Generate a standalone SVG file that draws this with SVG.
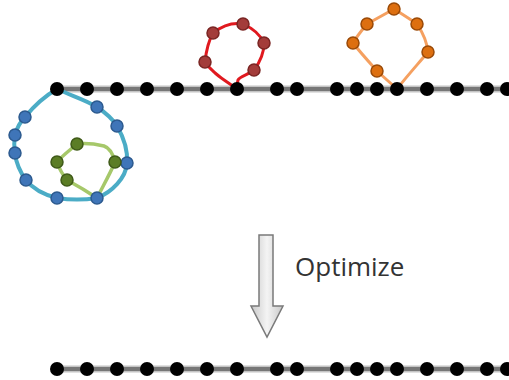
<svg xmlns="http://www.w3.org/2000/svg" width="509" height="380" viewBox="0 0 509 380">
<defs>
<linearGradient id="arrowGrad" x1="0" y1="0" x2="1" y2="0">
<stop offset="0" stop-color="#c8c8c8"/>
<stop offset="0.5" stop-color="#f4f4f4"/>
<stop offset="1" stop-color="#c8c8c8"/>
</linearGradient>
</defs>
<style>
.halo{stroke:#c4c4c4;stroke-width:7;fill:none}
.track{stroke:#777;stroke-width:4;fill:none}
.bead{fill:#000}
.blue-line{fill:none;stroke:#4bacc6;stroke-width:4;stroke-linejoin:round}
.green-line{fill:none;stroke:#a6c86a;stroke-width:3.5;stroke-linejoin:round}
.red-line{fill:none;stroke:#e0191f;stroke-width:3;stroke-linejoin:round}
.orange-line{fill:none;stroke:#f5a060;stroke-width:3;stroke-linejoin:round}
.blue-dot{fill:#3f75b8;stroke:#2c5a8f;stroke-width:1.5}
.green-dot{fill:#5b7d25;stroke:#3f5a18;stroke-width:1.5}
.red-dot{fill:#a33c3a;stroke:#7a2523;stroke-width:1.5}
.orange-dot{fill:#dd6f10;stroke:#9a4a08;stroke-width:1.5}
.label{font-family:"Open Sans","Liberation Sans",sans-serif;font-size:26px;fill:#333}
</style>

<g id="connectors">
<g id="top-track">
<line class="halo" x1="57" y1="89" x2="509" y2="89"/>
<line class="track" x1="57" y1="89" x2="509" y2="89"/>
</g>
<g id="bottom-track">
<line class="halo" x1="57" y1="369" x2="509" y2="369"/>
<line class="track" x1="57" y1="369" x2="509" y2="369"/>
</g>
<path id="blue-loop-line" class="blue-line" d="M57,89 C72,96 86,100 97,107 C106,113 112,118 117,126 C124,138 128,150 127,163 C126,178 112,192 97,198 C84,200 70,200 57,198 C45,195 33,189 26,180 C20,172 16,162 15,153 C14,147 14,141 15,135 C17,128 20,122 25,117 C34,106 45,96 57,89 Z"/>
<path id="green-loop-line" class="green-line" d="M77,144 C70,150 62,156 57,162 C59,168 62,174 67,180 C78,186 88,192 97,198 C103,186 110,174 115,162 C113,154 110,148 104,146 C95,144 86,143 77,144 Z"/>
<path id="red-loop-line" class="red-line" d="M237,89 C226,81 213,74 205,62 C206,52 208,42 213,33 C222,26 232,22 243,24 C252,28 260,34 264,43 C264,54 260,62 254,70 C248,75 240,76 238,80 C237,83 237,86 237,89"/>
<path id="orange-loop-line" class="orange-line" d="M397,89 L377,71 C369,62 360,52 353,43 C357,36 362,30 367,24 C376,19 385,14 394,9 C402,14 410,19 417,24 C423,33 427,42 428,52 C418,64 407,76 397,89"/>
</g>

<g id="top-beads">
<circle class="bead" cx="57" cy="89" r="7"/>
<circle class="bead" cx="87" cy="89" r="7"/>
<circle class="bead" cx="117" cy="89" r="7"/>
<circle class="bead" cx="147" cy="89" r="7"/>
<circle class="bead" cx="177" cy="89" r="7"/>
<circle class="bead" cx="207" cy="89" r="7"/>
<circle class="bead" cx="237" cy="89" r="7"/>
<circle class="bead" cx="277" cy="89" r="7"/>
<circle class="bead" cx="297" cy="89" r="7"/>
<circle class="bead" cx="337" cy="89" r="7"/>
<circle class="bead" cx="357" cy="89" r="7"/>
<circle class="bead" cx="377" cy="89" r="7"/>
<circle class="bead" cx="397" cy="89" r="7"/>
<circle class="bead" cx="427" cy="89" r="7"/>
<circle class="bead" cx="457" cy="89" r="7"/>
<circle class="bead" cx="487" cy="89" r="7"/>
<circle class="bead" cx="507" cy="89" r="7"/>
</g>

<g id="blue-loop">
<circle class="blue-dot" cx="97" cy="107" r="6"/>
<circle class="blue-dot" cx="117" cy="126" r="6"/>
<circle class="blue-dot" cx="127" cy="163" r="6"/>
<circle class="blue-dot" cx="97" cy="198" r="6"/>
<circle class="blue-dot" cx="57" cy="198" r="6"/>
<circle class="blue-dot" cx="26" cy="180" r="6"/>
<circle class="blue-dot" cx="15" cy="153" r="6"/>
<circle class="blue-dot" cx="15" cy="135" r="6"/>
<circle class="blue-dot" cx="25" cy="117" r="6"/>
</g>

<g id="green-loop">
<circle class="green-dot" cx="77" cy="144" r="6"/>
<circle class="green-dot" cx="57" cy="162" r="6"/>
<circle class="green-dot" cx="67" cy="180" r="6"/>
<circle class="green-dot" cx="115" cy="162" r="6"/>
</g>

<g id="red-loop">
<circle class="red-dot" cx="205" cy="62" r="6"/>
<circle class="red-dot" cx="213" cy="33" r="6"/>
<circle class="red-dot" cx="243" cy="24" r="6"/>
<circle class="red-dot" cx="264" cy="43" r="6"/>
<circle class="red-dot" cx="254" cy="70" r="6"/>
</g>

<g id="orange-loop">
<circle class="orange-dot" cx="377" cy="71" r="6"/>
<circle class="orange-dot" cx="353" cy="43" r="6"/>
<circle class="orange-dot" cx="367" cy="24" r="6"/>
<circle class="orange-dot" cx="394" cy="9" r="6"/>
<circle class="orange-dot" cx="417" cy="24" r="6"/>
<circle class="orange-dot" cx="428" cy="52" r="6"/>
</g>

<g id="optimize-arrow">
<polygon points="259,235 273,235 273,306 283,306 267,337 251,306 259,306" fill="url(#arrowGrad)" stroke="#7a7a7a" stroke-width="1.5" stroke-linejoin="miter"/>
<text class="label" x="295" y="276">Optimize</text>
</g>

<g id="bottom-beads">
<circle class="bead" cx="57" cy="369" r="7"/>
<circle class="bead" cx="87" cy="369" r="7"/>
<circle class="bead" cx="117" cy="369" r="7"/>
<circle class="bead" cx="147" cy="369" r="7"/>
<circle class="bead" cx="177" cy="369" r="7"/>
<circle class="bead" cx="207" cy="369" r="7"/>
<circle class="bead" cx="237" cy="369" r="7"/>
<circle class="bead" cx="277" cy="369" r="7"/>
<circle class="bead" cx="297" cy="369" r="7"/>
<circle class="bead" cx="337" cy="369" r="7"/>
<circle class="bead" cx="357" cy="369" r="7"/>
<circle class="bead" cx="377" cy="369" r="7"/>
<circle class="bead" cx="397" cy="369" r="7"/>
<circle class="bead" cx="427" cy="369" r="7"/>
<circle class="bead" cx="457" cy="369" r="7"/>
<circle class="bead" cx="487" cy="369" r="7"/>
<circle class="bead" cx="507" cy="369" r="7"/>
</g>
</svg>
